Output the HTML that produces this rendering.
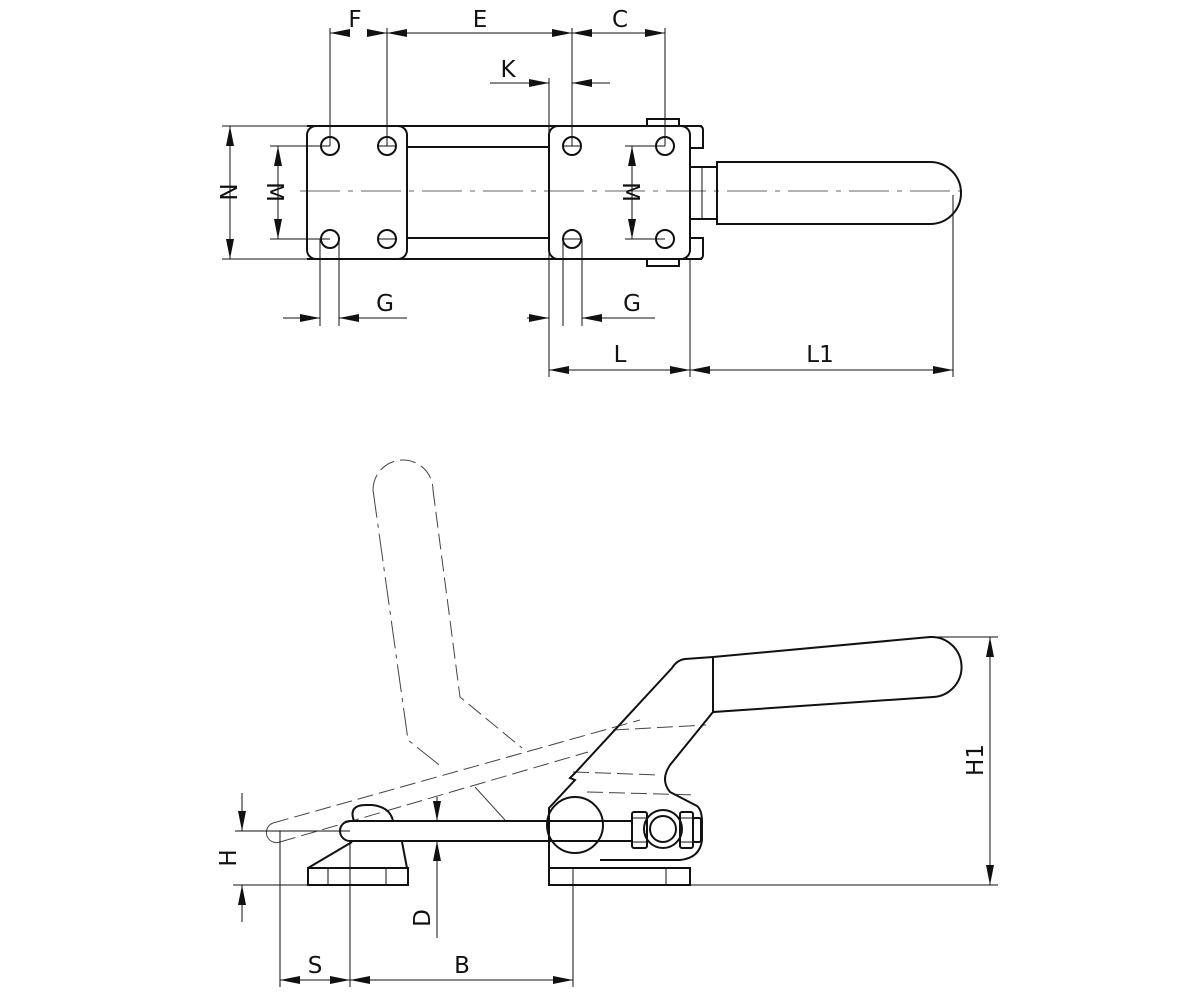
<!DOCTYPE html>
<html><head><meta charset="utf-8"><style>
html,body{margin:0;padding:0;background:#fff;}
svg{display:block}
text{font-family:"DejaVu Sans","Liberation Sans",sans-serif;font-size:23px;fill:#111;}
</style></head><body>
<svg width="1200" height="1000" viewBox="0 0 1200 1000" xmlns="http://www.w3.org/2000/svg">
<defs>
<marker id="a" viewBox="0 0 20 8" refX="20" refY="4" markerWidth="20" markerHeight="8" markerUnits="userSpaceOnUse" orient="auto-start-reverse"><path d="M0,0 L20,4 L0,8 z" fill="#111"/></marker>
</defs>
<g fill="none" stroke="#111" stroke-width="1">
<!-- ===== TOP VIEW ===== -->
<line x1="300" y1="191" x2="962" y2="191" stroke="#666" stroke-dasharray="40,8,5,8"/>
<g stroke-width="2">
<line x1="307" y1="126" x2="702" y2="126"/>
<line x1="307" y1="259" x2="702" y2="259"/>
<rect x="307" y="126" width="100" height="133" rx="9"/>
<rect x="549" y="126" width="141" height="133" rx="9"/>
<line x1="407" y1="147" x2="549" y2="147"/>
<line x1="407" y1="238" x2="549" y2="238"/>
<path d="M690,126 H699 Q703,126 703,130 V148 H690"/>
<path d="M690,259 H699 Q703,259 703,255 V238 H690"/>
<rect x="647" y="119" width="32" height="7"/>
<rect x="647" y="259" width="32" height="7"/>
<rect x="690" y="167" width="27" height="52"/>
<path d="M717,162 H930 A31,31 0 0 1 930,224 H717 Z"/>
</g>
<line x1="702" y1="167" x2="702" y2="219"/>
<line x1="717" y1="167" x2="717" y2="219" stroke-dasharray="8,4" stroke-width="2"/>
<g stroke-width="2">
<circle cx="330" cy="146" r="9"/><circle cx="387" cy="146" r="9"/>
<circle cx="330" cy="239" r="9"/><circle cx="387" cy="239" r="9"/>
<circle cx="572" cy="146" r="9"/><circle cx="665" cy="146" r="9"/>
<circle cx="572" cy="239" r="9"/><circle cx="665" cy="239" r="9"/>
</g>
<line x1="378" y1="146" x2="396" y2="146"/><line x1="378" y1="239" x2="396" y2="239"/>
<line x1="563" y1="146" x2="581" y2="146"/><line x1="563" y1="239" x2="581" y2="239"/>
<line x1="330" y1="28" x2="330" y2="146"/><line x1="387" y1="28" x2="387" y2="146"/>
<line x1="572" y1="28" x2="572" y2="146"/><line x1="665" y1="28" x2="665" y2="146"/>
<line x1="349" y1="33" x2="330" y2="33" marker-end="url(#a)"/>
<line x1="368" y1="33" x2="387" y2="33" marker-end="url(#a)"/>
<line x1="387" y1="33" x2="572" y2="33" marker-start="url(#a)" marker-end="url(#a)"/>
<line x1="572" y1="33" x2="665" y2="33" marker-start="url(#a)" marker-end="url(#a)"/>
<line x1="549" y1="78" x2="549" y2="259"/>
<line x1="490" y1="83" x2="549" y2="83" marker-end="url(#a)"/>
<line x1="610" y1="83" x2="572" y2="83" marker-end="url(#a)"/>
<line x1="222" y1="126" x2="307" y2="126"/><line x1="222" y1="259" x2="307" y2="259"/>
<line x1="230" y1="126" x2="230" y2="259" marker-start="url(#a)" marker-end="url(#a)"/>
<line x1="270" y1="146" x2="330" y2="146"/><line x1="270" y1="239" x2="330" y2="239"/>
<line x1="278" y1="146" x2="278" y2="239" marker-start="url(#a)" marker-end="url(#a)"/>
<line x1="625" y1="146" x2="665" y2="146"/><line x1="625" y1="239" x2="665" y2="239"/>
<line x1="632" y1="146" x2="632" y2="239" marker-start="url(#a)" marker-end="url(#a)"/>
<line x1="320" y1="239" x2="320" y2="326"/><line x1="339" y1="239" x2="339" y2="326"/>
<line x1="283" y1="318" x2="320" y2="318" marker-end="url(#a)"/>
<line x1="407" y1="318" x2="339" y2="318" marker-end="url(#a)"/>
<line x1="563" y1="239" x2="563" y2="326"/><line x1="582" y1="239" x2="582" y2="326"/>
<line x1="527" y1="318" x2="549" y2="318" marker-end="url(#a)"/>
<line x1="655" y1="318" x2="582" y2="318" marker-end="url(#a)"/>
<line x1="549" y1="259" x2="549" y2="377"/><line x1="690" y1="259" x2="690" y2="377"/>
<line x1="953" y1="195" x2="953" y2="377"/>
<line x1="549" y1="370" x2="690" y2="370" marker-start="url(#a)" marker-end="url(#a)"/>
<line x1="690" y1="370" x2="953" y2="370" marker-start="url(#a)" marker-end="url(#a)"/>

<!-- ===== SIDE VIEW ===== -->
<g stroke="#444" stroke-dasharray="16,6">
<path d="M373,490 A30,30 0 0 1 433,490"/>
<path d="M433,490 L460,697 L522,748"/>
<path d="M273,823 L640,720"/>
<path d="M280,842 L588,752"/>
<path d="M613,730 L706,725"/>
<path d="M573,772 L660,775"/>
<path d="M587,792 L697,795"/>
</g>
<path d="M373,490 L408,740 L443,768" stroke="#444" stroke-dasharray="28,6,4,6"/>
<path d="M273,823 A9.5,9.5 0 0 0 280,842" stroke="#444"/>
<line x1="475" y1="787" x2="505" y2="820" stroke="#444"/>
<g stroke-width="2">
<path d="M713,657 L930,637 A30,30 0 0 1 933,697 L713,712 Z"/>
<path d="M713,657 L685,659 Q677,660 672,668 L576,772 L570,778 L575,780 L549,808 V868"/>
<path d="M713,712 L670,765 Q660,780 670,792 L697,806 Q702,810 702,822 V840 Q700,858 680,860 L600,860"/>
<circle cx="575" cy="825" r="28"/>
<path d="M632,821 H350 A10,10 0 0 0 350,841 H632"/>
<rect x="632" y="812" width="15" height="36" rx="2"/>
<circle cx="663" cy="829" r="19"/>
<circle cx="663" cy="829" r="13"/>
<rect x="680" y="812" width="13" height="36" rx="2"/>
<rect x="693" y="818" width="8" height="24" rx="2"/>
<path d="M354,821 Q348,805 366,805 H372 Q390,807 393,821"/>
<path d="M308,868 L352,842"/><path d="M402,842 L407,868"/>
<rect x="308" y="868" width="100" height="17"/>
<rect x="549" y="868" width="141" height="17"/>
</g>
<line x1="632" y1="818" x2="647" y2="818"/><line x1="632" y1="842" x2="647" y2="842"/>
<line x1="680" y1="818" x2="693" y2="818"/><line x1="680" y1="842" x2="693" y2="842"/>
<line x1="328" y1="868" x2="328" y2="885"/><line x1="386" y1="868" x2="386" y2="885"/>
<line x1="573" y1="868" x2="573" y2="885"/><line x1="666" y1="868" x2="666" y2="885"/>
<line x1="690" y1="885" x2="998" y2="885"/>
<line x1="233" y1="885" x2="308" y2="885"/>
<line x1="935" y1="637" x2="998" y2="637"/>
<line x1="990" y1="637" x2="990" y2="885" marker-start="url(#a)" marker-end="url(#a)"/>
<line x1="235" y1="831" x2="350" y2="831"/>
<line x1="242" y1="793" x2="242" y2="831" marker-end="url(#a)"/>
<line x1="242" y1="922" x2="242" y2="885" marker-end="url(#a)"/>
<line x1="437" y1="797" x2="437" y2="821" marker-end="url(#a)"/>
<line x1="437" y1="938" x2="437" y2="841" marker-end="url(#a)"/>
<line x1="280" y1="831" x2="280" y2="987"/>
<line x1="350" y1="841" x2="350" y2="987"/>
<line x1="573" y1="885" x2="573" y2="987"/>
<line x1="280" y1="980" x2="350" y2="980" marker-start="url(#a)" marker-end="url(#a)"/>
<line x1="350" y1="980" x2="573" y2="980" marker-start="url(#a)" marker-end="url(#a)"/>
</g>
<text x="355" y="27" text-anchor="middle">F</text>
<text x="480" y="27" text-anchor="middle">E</text>
<text x="620" y="27" text-anchor="middle">C</text>
<text x="508" y="77" text-anchor="middle">K</text>
<text x="385" y="311" text-anchor="middle">G</text>
<text x="632" y="311" text-anchor="middle">G</text>
<text x="620" y="362" text-anchor="middle">L</text>
<text x="820" y="362" text-anchor="middle">L1</text>
<text transform="translate(220,192) rotate(90)" text-anchor="middle">N</text>
<text transform="translate(267,192) rotate(90)" text-anchor="middle">M</text>
<text transform="translate(623,192) rotate(90)" text-anchor="middle">M</text>
<text transform="translate(983,760) rotate(-90)" text-anchor="middle">H1</text>
<text transform="translate(236,858) rotate(-90)" text-anchor="middle">H</text>
<text transform="translate(430,918) rotate(-90)" text-anchor="middle">D</text>
<text x="315" y="973" text-anchor="middle">S</text>
<text x="462" y="973" text-anchor="middle">B</text>
</svg>
</body></html>
